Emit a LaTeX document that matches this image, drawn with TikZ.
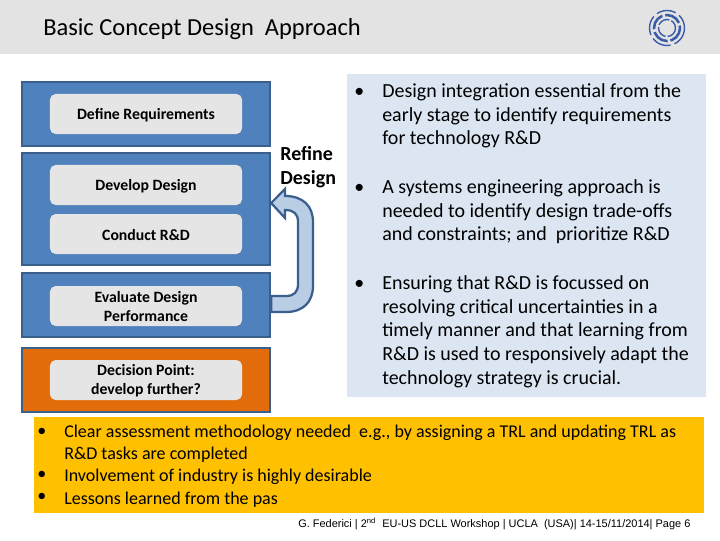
\documentclass[tikz,border=0pt]{standalone}
\usepackage{fontspec}
\setmainfont{Carlito}
\newfontfamily\footfont{Liberation Sans}
\usetikzlibrary{calc}
\definecolor{headgray}{HTML}{E3E3E3}
\definecolor{stepblue}{HTML}{4F81BD}
\definecolor{stepedge}{HTML}{3B5F8C}
\definecolor{steporange}{HTML}{E36C0A}
\definecolor{stepgray}{HTML}{E5E5E5}
\definecolor{panelblue}{HTML}{DCE6F2}
\definecolor{notegold}{HTML}{FFC000}
\definecolor{arrowblue}{HTML}{B9CDE5}
\definecolor{logoblue}{HTML}{3A5CA8}
\tikzset{
  outerbox/.style={draw=stepedge, line width=1.6pt, fill=stepblue, minimum width=6.2cm, minimum height=#1},
  innerbox/.style={fill=stepgray, rounded corners=4pt, minimum width=4.8cm, minimum height=1cm},
  steptext/.style={align=center, font=\fontsize{11.2}{13.4}\selectfont\bfseries},
  bullettext/.style={anchor=north west, inner sep=0pt, align=left,
    font=\fontsize{14.2}{17}\selectfont},
  notetext/.style={anchor=north west, inner sep=0pt, align=left,
    font=\fontsize{12.8}{15.7}\selectfont},
  logoarc/.style={draw=logoblue, line width=#1}
}
\begin{document}
\begin{tikzpicture}[x=0.025cm, y=-0.025cm]
  \useasboundingbox (0,0) rectangle (720,540);
  % header
  \fill[headgray] (0,0) rectangle (720,54);
  \node[anchor=west, inner sep=0pt, font=\fontsize{17.4}{20}\selectfont] (title) at (43,29) {Basic Concept Design\ \ Approach};
  \begin{scope}[shift={(667,28)}]
    \draw[logoarc=1pt, dash pattern=on 9pt off 1.5pt] (0,0) circle (8.5);
    \draw[logoarc=1.8pt, dash pattern=on 12pt off 2pt] (0,0) circle (13);
    \draw[logoarc=1pt, dash pattern=on 14pt off 3pt] (0,0) circle (17.5);
  \end{scope}
  % process steps
  \node[outerbox=1.6cm] (defineouter) at (146,114) {};
  \node[outerbox=2.8cm] (developouter) at (146,209) {};
  \node[outerbox=1.6cm] (evalouter) at (146,305) {};
  \node[outerbox=1.6cm, fill=steporange] (decideouter) at (146,380) {};
  \node[innerbox] (define) at (146,114) {};
  \node[innerbox] (develop) at (146,185) {};
  \node[innerbox] (conduct) at (146,234) {};
  \node[innerbox] (evaluate) at (146,306) {};
  \node[innerbox] (decide) at (146,380) {};
  \node[steptext] at (146,115.5) {Define Requirements};
  \node[steptext] at (146,186) {Develop Design};
  \node[steptext] at (146,235.5) {Conduct R\&D};
  \node[steptext] at (146,306.5) {Evaluate Design\\Performance};
  \node[steptext] at (146,381) {Decision Point:\\develop further?};
  % refine arrow
  \draw[draw=stepedge, line width=1.6pt, fill=arrowblue, line join=miter]
    ($(evalouter.east)+(0,-9)$) -- (286,296) .. controls (294,296) and (298,292) .. (298,284)
    -- (298,222) .. controls (298,214) and (294,210) .. (285,210)
    -- (285,218) -- ($(developouter.east)+(0,-6)$) -- (285,189) -- (285,196)
    .. controls (303,196) and (313,206) .. (313,222)
    -- (313,286) .. controls (313,302) and (303,312) .. (286,312)
    -- ($(evalouter.east)+(0,7)$) -- cycle;
  \node[anchor=north west, inner sep=0pt, align=left, font=\fontsize{14.2}{17}\selectfont\bfseries] (refine) at (280,146) {Refine\\Design};
  % right panel
  \fill[panelblue] (347,74) rectangle (706,397);
  \node[bullettext] (bulleta) at (354,88) {\textbullet};
  \node[bullettext] (texta) at (382,83) {Design integration essential from the\\early stage to identify requirements\\for technology R\&D};
  \node[bullettext] (bulletb) at (354,184) {\textbullet};
  \node[bullettext] (textb) at (382,179) {A systems engineering approach is\\needed to identify design trade-offs\\and constraints; and\ \ prioritize R\&D};
  \node[bullettext] (bulletc) at (354,280) {\textbullet};
  \node[bullettext] (textc) at (382,275) {Ensuring that R\&D is focussed on\\resolving critical uncertainties in a\\timely manner and that learning from\\R\&D is used to responsively adapt the\\technology strategy is crucial.};
  % bottom note
  \fill[notegold] (34,417) rectangle (704,513);
  \node[notetext] (bulletd) at (37,428) {\textbullet};
  \node[notetext] (bullete) at (37,471) {\textbullet};
  \node[notetext] (bulletf) at (37,493) {\textbullet};
  \node[notetext] (notes) at (64,425) {Clear assessment methodology needed\ \ e.g., by assigning a TRL and updating TRL as\\R\&D tasks are completed\\Involvement of industry is highly desirable\\Lessons learned from the pas};
  % footer
  \node[anchor=west, inner sep=0pt, font=\footfont\fontsize{7.8}{9}\selectfont] (footer) at (298,524) {G. Federici | 2\textsuperscript{nd}\ \ EU-US DCLL Workshop | UCLA\ \ (USA)| 14-15/11/2014| Page 6};
\end{tikzpicture}
\end{document}
